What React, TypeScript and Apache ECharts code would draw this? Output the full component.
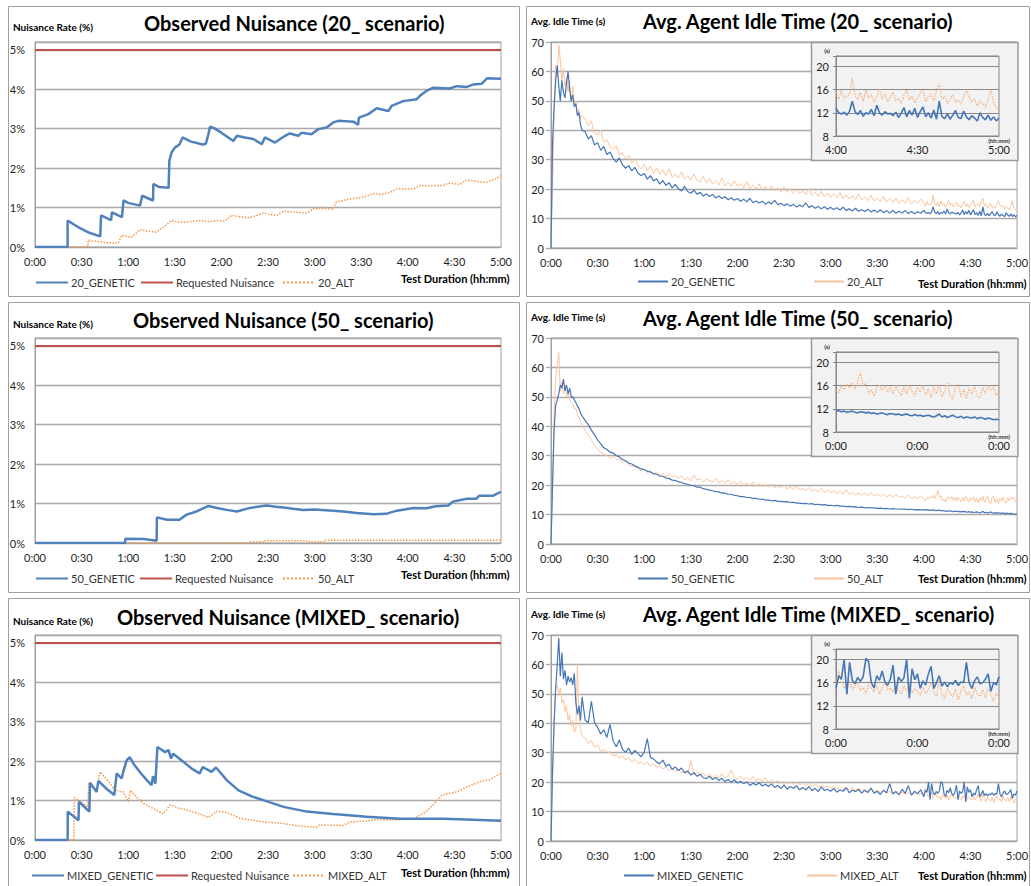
import React, { useEffect, useRef } from 'react';
import * as echarts from 'echarts';

function range(a: number, b: number, s: number): number[] {
  const r: number[] = [];
  for (let v = a; v <= b + 1e-9; v += s) r.push(v);
  return r;
}

// ---------- tick labels ----------
const xTickLabels = ['0:00', '0:30', '1:00', '1:30', '2:00', '2:30', '3:00', '3:30', '4:00', '4:30', '5:00'];
const pctLabels = ['0%', '1%', '2%', '3%', '4%', '5%'];
const idleLabels = ['0', '10', '20', '30', '40', '50', '60', '70'];
const insetYLabels = ['8', '12', '16', '20'];
const insetXLabels20 = ['4:00', '4:30', '5:00'];
const insetXLabelsOther = ['0:00', '0:00', '0:00'];

// ---------- nuisance (minutes, %) ----------
const requestedRate = 5;

const gen20T = [0, 21, 21, 28, 35, 42, 42.5, 49, 49.5, 56, 57, 60, 67.6, 69, 76, 76.2, 80, 86, 86.5, 88, 90, 93, 95, 100, 108, 110, 111.6, 112.7, 115, 120, 127.7, 130, 135, 140.5, 146, 148, 154.5, 161, 164, 169.5, 171.7, 178, 182.4, 187.8, 192, 195.3, 205, 208, 208.5, 214.6, 220, 227.5, 229.6, 237, 245.7, 248, 252, 256.4, 267, 271.5, 278, 282, 287.5, 291, 300];
const gen20V = [0, 0, 0.67, 0.5, 0.36, 0.27, 0.8, 0.68, 0.88, 0.76, 1.18, 1.12, 1.05, 1.3, 1.18, 1.6, 1.52, 1.5, 2.19, 2.4, 2.52, 2.6, 2.78, 2.68, 2.6, 2.62, 2.86, 3.05, 3.02, 2.9, 2.69, 2.82, 2.78, 2.74, 2.61, 2.78, 2.65, 2.82, 2.88, 2.82, 2.9, 2.86, 2.99, 3.03, 3.16, 3.2, 3.18, 3.1, 3.28, 3.37, 3.52, 3.45, 3.58, 3.7, 3.75, 3.84, 3.96, 4.04, 4.02, 4.08, 4.06, 4.12, 4.14, 4.28, 4.27];
const alt20T = [0, 34, 34.2, 40, 46, 53.6, 56, 62, 67.6, 72, 78, 82.6, 88, 92, 97.6, 106, 112, 117, 122, 126.6, 132, 138, 147, 155.6, 160, 168, 175, 179, 186, 192, 194, 203, 211, 218, 223, 228.5, 233, 243.6, 248, 256, 263, 266, 273.6, 278, 285, 291, 296, 300];
const alt20V = [0, 0, 0.17, 0.14, 0.11, 0.1, 0.3, 0.24, 0.44, 0.4, 0.38, 0.5, 0.67, 0.63, 0.63, 0.67, 0.64, 0.67, 0.66, 0.8, 0.77, 0.74, 0.86, 0.8, 0.91, 0.88, 0.86, 0.97, 0.98, 0.96, 1.14, 1.22, 1.26, 1.36, 1.33, 1.39, 1.47, 1.47, 1.56, 1.55, 1.56, 1.62, 1.59, 1.7, 1.66, 1.64, 1.72, 1.81];

const gen50T = [0, 58, 58.2, 70, 78.3, 78.5, 85, 93, 97.6, 104, 111.6, 118, 123.4, 130, 138.4, 149, 155, 160, 166, 172.7, 180, 192, 200, 207, 218, 226, 233, 243.6, 252, 258, 266, 269, 278, 284, 286, 295, 300];
const gen50V = [0, 0, 0.11, 0.1, 0.06, 0.65, 0.59, 0.59, 0.72, 0.8, 0.94, 0.88, 0.84, 0.8, 0.89, 0.95, 0.92, 0.9, 0.87, 0.84, 0.85, 0.82, 0.79, 0.76, 0.73, 0.74, 0.82, 0.89, 0.88, 0.93, 0.95, 1.05, 1.12, 1.12, 1.2, 1.2, 1.3];
const alt50T = [0, 138.4, 138.6, 147, 147.2, 175, 175.2, 186.7, 186.9, 300];
const alt50V = [0, 0, 0.03, 0.03, 0.06, 0.06, 0.03, 0.03, 0.07, 0.07];

const genMixT = [0, 21, 21.1, 28, 28.3, 35, 35.4, 39.7, 40.8, 46, 51, 52.6, 55.8, 56.8, 59, 61, 64, 68, 72, 75, 76, 77.5, 78.8, 81, 83.7, 86, 87.5, 89, 95, 100.9, 106, 108, 113.7, 116.5, 120, 123.4, 131, 140, 147, 160, 175, 192, 213.5, 235, 263, 286.5, 300];
const genMixV = [0, 0, 0.72, 0.5, 0.97, 0.72, 1.45, 1.22, 1.5, 1.3, 1.14, 1.69, 1.56, 1.73, 2.02, 2.1, 1.9, 1.7, 1.52, 1.39, 1.62, 1.43, 2.36, 2.3, 2.23, 2.28, 2.07, 2.19, 2.0, 1.81, 1.69, 1.85, 1.73, 1.84, 1.68, 1.52, 1.26, 1.1, 1.01, 0.84, 0.72, 0.66, 0.59, 0.54, 0.54, 0.51, 0.49];
const altMixT = [0, 25, 25.3, 30, 34, 34.6, 39.7, 42, 47, 51.5, 57, 60, 61.5, 65, 69.7, 78, 82.6, 87, 92, 97.6, 106, 111.6, 117, 123.4, 132, 147, 160, 170.6, 181, 183, 198.5, 203, 213.5, 220, 233, 243.6, 250, 256.4, 262, 271.5, 277, 286.5, 293, 300];
const altMixV = [0, 0, 1.08, 0.95, 0.84, 1.45, 1.26, 1.73, 1.5, 1.26, 1.22, 0.97, 1.26, 1.1, 0.93, 0.76, 0.66, 0.89, 0.82, 0.76, 0.66, 0.57, 0.73, 0.7, 0.55, 0.46, 0.42, 0.35, 0.32, 0.38, 0.37, 0.46, 0.48, 0.52, 0.51, 0.54, 0.67, 0.89, 1.14, 1.22, 1.33, 1.48, 1.53, 1.69];

// ---------- idle time (s) ----------
// sample times: every minute to 0:20, every 2 minutes to 3:58, every minute in the last hour
const idleTimes = [...range(0, 20, 1), ...range(22, 238, 2), ...range(240, 300, 1)];
const insetTimes = range(240, 300, 1);

const gen20Early = [0, 36, 48, 57, 62, 55, 50, 57, 53, 51, 56, 60, 54, 50, 52, 48, 49, 45, 46, 42, 40];
const gen20Mid = [39.5, 37, 38.2, 35, 35.8, 33.2, 34.5, 31.8, 32.6, 30.4,
  29.2, 30.6, 28.3, 27.1, 28.0, 26.2, 27.4, 25.5, 24.6, 25.3,
  23.4, 24.6, 22.8, 23.5, 21.7, 22.9, 21.3, 22.2, 20.4, 21.6,
  20.1, 19.4, 21.0, 19.2, 18.6, 19.7, 18.3, 18.9, 17.6, 18.4,
  17.5, 18.2, 17.0, 17.7, 16.8, 17.4, 16.4, 17.1, 16.2, 16.8,
  15.9, 16.6, 15.7, 16.9, 15.4, 16.0, 15.3, 15.9, 14.9, 15.6,
  15.0, 16.2, 14.7, 15.2, 14.4, 15.0, 14.2, 14.9, 13.9, 14.6,
  14.0, 15.3, 13.8, 14.4, 13.5, 14.1, 13.3, 14.0, 13.2, 13.8,
  13.1, 13.7, 12.9, 13.9, 12.7, 13.3, 12.6, 13.5, 12.5, 13.0,
  12.4, 13.2, 12.2, 12.9, 12.1, 13.0, 12.0, 12.7, 11.9, 12.8,
  11.8, 12.5, 11.9, 12.7, 11.7, 12.4, 11.6, 12.3, 11.8];
const gen20Late = [12.8, 12.0, 11.8, 12.1, 11.6, 12.3, 14.0, 12.2, 11.7, 12.4,
  11.4, 12.0, 11.8, 12.6, 11.5, 13.3, 12.0, 11.6, 12.2, 11.8,
  11.9, 11.5, 12.1, 11.2, 11.9, 12.9, 11.3, 12.4, 11.6, 12.8,
  11.2, 12.2, 13.0, 11.3, 12.0, 11.1, 12.5, 10.9, 14.0, 11.4,
  11.0, 11.8, 10.9, 11.6, 12.4, 11.2, 11.0, 12.3, 11.3, 10.8,
  11.5, 11.1, 10.6, 12.0, 11.2, 10.8, 11.6, 10.7, 11.3, 10.6,
  11.1];

const alt20Early = [0, 21, 45, 62, 58, 69, 64, 57, 61, 55, 58, 53, 57, 50, 55, 48, 50, 46, 47, 44, 45];
const alt20Mid = [44.0, 41.5, 43.2, 39.0, 38.4, 40.1, 35.8, 36.9, 34.2, 33.5,
  34.8, 31.6, 32.4, 30.2, 31.5, 28.8, 30.6, 28.1, 26.9, 28.4,
  26.3, 27.8, 25.4, 27.2, 25.0, 26.6, 24.6, 26.9, 24.0, 25.3,
  23.8, 25.9, 23.4, 24.6, 22.9, 25.2, 23.0, 22.4, 24.3, 22.1,
  23.6, 21.7, 22.9, 21.4, 23.8, 21.2, 22.4, 20.9, 22.8, 21.0,
  21.9, 20.5, 22.6, 20.3, 21.4, 20.0, 21.8, 19.8, 20.9, 19.6,
  21.2, 19.4, 20.5, 19.0, 20.8, 18.9, 20.1, 18.6, 19.9, 18.4,
  19.6, 18.1, 20.3, 17.9, 19.0, 17.6, 19.3, 17.4, 18.7, 17.2,
  18.6, 17.0, 18.9, 16.8, 18.1, 16.6, 17.8, 16.4, 18.3, 16.3,
  17.4, 16.1, 17.9, 15.9, 17.0, 15.8, 17.5, 15.6, 16.8, 15.5,
  16.9, 15.3, 16.4, 15.2, 17.1, 15.0, 16.2, 15.1, 16.6];
const alt20Late = [15.6, 14.2, 15.8, 14.5, 14.9, 15.2, 18.0, 15.0, 14.3, 15.5,
  14.0, 16.0, 14.6, 15.1, 13.8, 14.8, 16.1, 14.4, 15.3, 13.9,
  14.7, 15.6, 14.1, 14.5, 13.6, 15.0, 16.0, 14.2, 14.9, 13.7,
  14.6, 15.4, 16.3, 13.9, 14.7, 15.2, 14.0, 15.8, 17.0, 14.3,
  14.9, 13.6, 14.4, 15.1, 13.8, 14.2, 13.5, 14.8, 16.0, 14.6,
  13.9, 14.4, 13.2, 14.1, 13.6, 13.0, 14.3, 16.0, 13.8, 12.9,
  12.6];

const gen50Early = [0, 20, 39, 47, 49, 51, 54, 53, 56, 52, 54, 51, 53, 50, 50, 49, 48, 47, 46, 44.5, 43.5];
const gen50Mid = [42.0, 40.6, 38.7, 37.1, 35.3, 34.1, 32.7, 32.1, 31.2, 30.9,
  30.0, 29.6, 28.7, 28.3, 27.5, 27.2, 26.4, 26.1, 25.5, 25.3,
  24.7, 24.5, 23.9, 23.7, 23.1, 23.0, 22.4, 22.3, 21.7, 21.6,
  21.1, 20.9, 20.5, 20.3, 19.9, 19.8, 19.3, 19.3, 18.8, 18.6,
  18.3, 18.1, 17.8, 17.7, 17.3, 17.3, 16.9, 16.9, 16.5, 16.4,
  16.1, 16.1, 15.8, 15.8, 15.5, 15.5, 15.2, 15.3, 14.9, 14.9,
  14.7, 14.8, 14.5, 14.5, 14.3, 14.4, 14.1, 14.2, 13.9, 13.9,
  13.7, 13.8, 13.6, 13.7, 13.4, 13.5, 13.3, 13.4, 13.1, 13.1,
  13.0, 13.1, 12.9, 12.9, 12.7, 12.8, 12.6, 12.7, 12.4, 12.5,
  12.3, 12.4, 12.3, 12.3, 12.1, 12.2, 12.0, 12.1, 11.9, 12.0,
  11.9, 11.9, 11.8, 11.9, 11.7, 11.8, 11.6, 11.7, 11.6];
const gen50Late = [11.6, 11.7, 11.5, 11.6, 11.4, 11.5, 11.6, 11.4, 11.3, 11.5,
  11.4, 11.3, 11.4, 11.2, 11.3, 11.1, 11.2, 11.3, 11.1, 11.0,
  11.2, 11.1, 11.0, 11.1, 10.9, 11.0, 11.1, 10.9, 10.8, 11.0,
  10.8, 10.9, 10.7, 10.8, 10.9, 10.7, 10.6, 10.8, 11.1, 10.6,
  10.8, 10.5, 10.7, 10.9, 10.6, 10.5, 10.7, 10.4, 10.6, 10.5,
  10.4, 10.6, 10.3, 10.5, 10.4, 10.2, 10.4, 10.3, 10.1, 10.2,
  10.1];

const alt50Early = [0, 18, 44, 56, 61, 65, 52, 55, 51, 54, 50, 52, 49, 48, 47.5, 46, 46, 44, 43, 41.5, 40.5];
const alt50Mid = [38.6, 37.0, 35.4, 33.6, 32.3, 31.2, 30.6, 30.0, 29.1, 29.8,
  28.7, 28.9, 27.6, 28.3, 26.9, 26.2, 27.1, 25.6, 24.9, 25.4,
  24.3, 24.9, 23.6, 24.4, 23.2, 24.0, 22.8, 23.9, 22.6, 23.3,
  22.4, 23.1, 21.8, 22.6, 21.5, 23.4, 21.7, 22.2, 21.1, 22.0,
  21.6, 21.0, 22.3, 20.8, 21.5, 20.6, 21.9, 20.4, 21.2, 20.3,
  21.4, 20.0, 20.9, 19.8, 21.1, 19.6, 20.5, 19.5, 20.2, 19.3,
  20.4, 19.1, 19.7, 18.9, 20.0, 18.7, 19.4, 18.5, 19.6, 18.3,
  18.9, 18.1, 19.2, 17.9, 18.6, 17.7, 18.9, 17.5, 18.3, 17.4,
  18.2, 17.2, 17.9, 17.0, 18.4, 16.9, 17.6, 16.7, 17.4, 16.6,
  17.3, 16.4, 17.5, 16.3, 16.9, 16.1, 17.0, 16.0, 16.7, 15.9,
  16.8, 15.8, 16.3, 15.6, 16.6, 15.5, 16.1, 15.4, 16.4];
const alt50Late = [15.2, 14.8, 15.9, 15.3, 16.2, 15.6, 16.5, 15.4, 16.8, 18.2,
  15.9, 16.4, 14.6, 15.3, 14.2, 15.7, 16.0, 15.2, 16.1, 14.8,
  15.9, 14.5, 16.0, 15.1, 14.3, 15.8, 14.6, 16.1, 15.0, 14.2,
  15.7, 14.9, 16.0, 14.4, 15.5, 13.9, 15.8, 14.6, 16.2, 14.0,
  15.1, 16.4, 14.3, 13.6, 15.9, 16.2, 14.1, 15.4, 13.8, 15.6,
  14.5, 15.9, 14.2, 13.9, 15.7, 14.6, 16.0, 15.2, 15.8, 14.3,
  15.0];

const mixGenEarly = [0, 24, 40, 52, 60, 69, 56, 64, 55, 58, 53, 56, 54, 55.5, 53, 57, 47, 43, 46, 41, 49];
const mixGenMid = [41.0, 40.2, 47.5, 40.3, 38.6, 36.4, 37.8, 35.2, 39.6, 34.0,
  32.0, 34.3, 31.2, 30.1, 31.6, 29.4, 30.8, 29.7, 28.6, 30.2,
  34.8, 28.4, 27.9, 26.8, 26.3, 27.5, 25.4, 26.1, 24.3, 25.2,
  23.9, 24.8, 23.1, 23.8, 22.4, 23.2, 22.0, 22.7, 21.5, 21.2,
  22.0, 20.9, 21.6, 20.6, 21.3, 20.2, 20.9, 19.9, 20.8, 19.7,
  20.3, 19.5, 20.1, 18.9, 19.6, 19.0, 19.8, 18.7, 19.3, 18.5,
  19.4, 18.2, 18.9, 17.8, 19.1, 17.6, 18.5, 17.9, 18.8, 17.4,
  18.2, 17.3, 18.6, 17.1, 17.9, 16.8, 18.4, 17.2, 17.6, 16.9,
  17.9, 16.6, 17.4, 16.9, 18.1, 16.4, 17.3, 16.8, 17.5, 16.3,
  17.2, 16.5, 18.0, 16.2, 16.9, 15.8, 17.3, 16.4, 19.5, 16.0,
  16.8, 15.7, 17.6, 16.2, 18.8, 15.6, 16.9, 16.1, 17.4];
const mixGenLate = [15.0, 17.2, 16.6, 20.0, 14.0, 19.5, 16.4, 15.8, 16.9, 16.2,
  17.0, 20.2, 19.6, 16.0, 15.1, 17.2, 16.4, 18.0, 16.1, 15.5,
  16.6, 19.0, 14.0, 17.0, 16.2, 16.8, 20.0, 13.3, 18.4, 16.5,
  17.5, 15.0, 16.3, 15.6, 17.5, 18.8, 15.0, 16.0, 17.2, 15.4,
  16.1, 15.3, 16.0, 15.7, 16.4, 15.5, 16.1, 16.0, 19.5, 16.0,
  15.0, 16.3, 17.0, 15.8, 16.0, 16.6, 17.5, 14.5, 16.0, 15.6,
  17.0];

const mixAltEarly = [0, 22, 40, 52, 53, 50, 52, 47, 48, 44, 46, 41, 43, 39, 41, 37, 38, 60, 42, 38, 36];
const mixAltMid = [35.0, 33.2, 34.1, 31.8, 32.6, 30.4, 31.2, 29.6, 30.5, 28.9,
  29.4, 28.1, 28.9, 27.5, 28.4, 26.8, 27.7, 26.3, 27.0, 25.9,
  26.8, 25.4, 26.2, 24.9, 25.8, 24.5, 25.1, 24.0, 24.8, 23.6,
  24.4, 23.1, 23.9, 22.8, 27.3, 22.5, 23.6, 22.2, 23.1, 21.9,
  22.7, 21.6, 22.4, 21.4, 22.9, 21.3, 22.2, 24.1, 21.6, 21.0,
  22.1, 20.8, 21.6, 20.6, 21.9, 20.5, 21.2, 20.3, 21.5, 20.1,
  20.9, 19.8, 20.6, 19.6, 20.3, 19.4, 20.1, 19.2, 20.0, 19.0,
  19.7, 18.8, 19.6, 18.5, 19.2, 18.3, 19.0, 18.1, 18.8, 17.9,
  18.6, 17.7, 18.5, 17.5, 18.2, 17.4, 18.0, 17.2, 17.9, 17.1,
  17.6, 16.9, 17.5, 16.7, 17.2, 16.5, 17.0, 16.3, 16.9, 16.2,
  16.8, 16.0, 16.6, 15.9, 16.4, 15.7, 16.3, 15.6, 16.2];
const mixAltLate = [15.9, 18.0, 16.2, 15.0, 15.6, 16.4, 14.8, 15.5, 16.0, 14.6,
  15.2, 14.1, 15.8, 15.0, 14.4, 15.6, 14.0, 15.3, 16.2, 14.7,
  15.1, 14.3, 15.5, 14.8, 14.0, 15.4, 14.6, 15.8, 14.2, 15.0,
  14.5, 13.8, 15.2, 14.1, 14.8, 16.0, 14.3, 13.6, 16.4, 14.0,
  13.3, 15.0, 14.2, 13.5, 14.9, 13.0, 14.6, 15.4, 13.8, 14.4,
  13.2, 15.2, 14.0, 13.6, 14.8, 13.4, 15.0, 13.9, 12.8, 14.2,
  13.5];

// ---------- styling ----------
const FONT = 'Lato';
const GRID_COLOR = '#a9a9a9';
const AXIS_COLOR = '#a0a0a0';
const PANEL_BORDER = '#a0a0a0';
const BLUE = '#4f81bd';
const RED = '#c0504d';
const ORANGE = '#f79646';
const IDLE_BLUE = '#4676b6';
const IDLE_ORANGE = '#f9c49c';
const INSET_ORANGE = '#f6ae7a';
const LABEL_COLOR = '#1e1e1e';

const plotTops = [42, 338, 635];
const panelTops = [6.5, 302.5, 598.5];

const pairs = (t: number[], v: number[]) => t.map((x, i) => [x, v[i]]);
const isInt = (v: number) => Math.abs(v - Math.round(v)) < 1e-6;

const scenarios = [
  {
    nuisTitle: 'Observed Nuisance (20_ scenario)', nuisTitleX: 144, nuisTitleY: 23,
    idleTitle: 'Avg. Agent Idle Time (20_ scenario)', idleTitleY: 21,
    gen: '20_GENETIC', alt: '20_ALT',
    genN: pairs(gen20T, gen20V), altN: pairs(alt20T, alt20V),
    genI: [...gen20Early, ...gen20Mid, ...gen20Late], altI: [...alt20Early, ...alt20Mid, ...alt20Late],
    genL: gen20Late, altL: alt20Late,
    insetLabels: insetXLabels20,
    nuisLegend: [35, 140, 282], nuisLegendY: 284,
    idleLegend: [637, 813], idleLegendY: 283,
    yNameLeftY: 27, yNameRightY: 21, durLeftY: 278, durRightY: 283,
  },
  {
    nuisTitle: 'Observed Nuisance (50_ scenario)', nuisTitleX: 133, nuisTitleY: 320,
    idleTitle: 'Avg. Agent Idle Time (50_ scenario)', idleTitleY: 318,
    gen: '50_GENETIC', alt: '50_ALT',
    genN: pairs(gen50T, gen50V), altN: pairs(alt50T, alt50V),
    genI: [...gen50Early, ...gen50Mid, ...gen50Late], altI: [...alt50Early, ...alt50Mid, ...alt50Late],
    genL: gen50Late, altL: alt50Late,
    insetLabels: insetXLabelsOther,
    nuisLegend: [35, 139, 282], nuisLegendY: 580,
    idleLegend: [637, 813], idleLegendY: 580,
    yNameLeftY: 324, yNameRightY: 317, durLeftY: 574, durRightY: 578,
  },
  {
    nuisTitle: 'Observed Nuisance (MIXED_ scenario)', nuisTitleX: 117, nuisTitleY: 617,
    idleTitle: 'Avg. Agent Idle Time (MIXED_ scenario)', idleTitleY: 614,
    gen: 'MIXED_GENETIC', alt: 'MIXED_ALT',
    genN: pairs(genMixT, genMixV), altN: pairs(altMixT, altMixV),
    genI: [...mixGenEarly, ...mixGenMid, ...mixGenLate], altI: [...mixAltEarly, ...mixAltMid, ...mixAltLate],
    genL: mixGenLate, altL: mixAltLate,
    insetLabels: insetXLabelsOther,
    nuisLegend: [31, 155, 292], nuisLegendY: 877,
    idleLegend: [623, 806], idleLegendY: 877,
    yNameLeftY: 621, yNameRightY: 614, durLeftY: 872, durRightY: 875,
  },
];

function text(x: number, y: number, s: string, size: number, bold: boolean, align = 'left', z = 20, color = '#000') {
  return {
    type: 'text', x, y, z, silent: true,
    style: {
      text: s, fontSize: size, fontWeight: bold ? 'bold' : 'normal', fontFamily: FONT, fill: color,
      textAlign: align, textVerticalAlign: 'middle', align, verticalAlign: 'middle',
    },
  };
}

function buildOption() {
  const grid: any[] = [];
  const xAxis: any[] = [];
  const yAxis: any[] = [];
  const series: any[] = [];
  const graphic: any[] = [];
  const legend: any[] = [];

  const labelStyle = { fontFamily: FONT, fontSize: 11, color: LABEL_COLOR };

  const mainX = (g: number) => ({
    type: 'value', gridIndex: g, min: 0, max: 300, interval: 30,
    axisLine: { show: true, onZero: false, lineStyle: { color: AXIS_COLOR } },
    axisTick: { show: false },
    splitLine: { show: false },
    axisLabel: { ...labelStyle, margin: 9, formatter: (v: number) => xTickLabels[Math.round(v / 30)] ?? '' },
  });

  // grids 0-2: nuisance, 3-5: idle, 6-8: insets
  scenarios.forEach((s, r) => {
    grid[r] = { left: 35, top: plotTops[r], width: 466, height: 205, show: true, borderColor: PANEL_BORDER, borderWidth: 1, backgroundColor: '#fff' };
    xAxis[r] = mainX(r);
    yAxis[r] = {
      type: 'value', gridIndex: r, min: 0, max: 5.2, interval: 1,
      axisLine: { show: true, lineStyle: { color: AXIS_COLOR } },
      axisTick: { show: false },
      splitLine: { show: true, lineStyle: { color: GRID_COLOR, width: 1.3 } },
      axisLabel: { ...labelStyle, margin: 10, formatter: (v: number) => (isInt(v) ? pctLabels[Math.round(v)] ?? '' : '') },
    };
  });
  scenarios.forEach((s, r) => {
    const g = 3 + r;
    grid[g] = { left: 551, top: plotTops[r], width: 467, height: 206, show: true, borderColor: PANEL_BORDER, borderWidth: 1, backgroundColor: '#fff' };
    xAxis[g] = mainX(g);
    yAxis[g] = {
      type: 'value', gridIndex: g, min: 0, max: 70, interval: 10,
      axisLine: { show: true, lineStyle: { color: AXIS_COLOR } },
      axisTick: { show: true, length: 5, lineStyle: { color: GRID_COLOR, width: 1.3 } },
      splitLine: { show: true, lineStyle: { color: GRID_COLOR, width: 1.3 } },
      axisLabel: { ...labelStyle, margin: 7, formatter: (v: number) => idleLabels[Math.round(v / 10)] ?? '' },
    };
  });
  scenarios.forEach((s, r) => {
    const g = 6 + r;
    grid[g] = { left: 836, top: plotTops[r] + 14, width: 163, height: 80, show: true, borderColor: '#858585', borderWidth: 1, backgroundColor: '#f2f2f2', z: 11 };
    xAxis[g] = {
      type: 'value', gridIndex: g, min: 240, max: 300, interval: 30, z: 12,
      axisLine: { show: true, onZero: false, lineStyle: { color: '#858585' } },
      axisTick: { show: false },
      splitLine: { show: false },
      axisLabel: { ...labelStyle, margin: 8, formatter: (v: number) => s.insetLabels[Math.round((v - 240) / 30)] ?? '' },
    };
    yAxis[g] = {
      type: 'value', gridIndex: g, min: 8, max: 21.8, interval: 4, z: 12,
      axisLine: { show: true, lineStyle: { color: '#858585' } },
      axisTick: { show: true, length: 3, lineStyle: { color: '#858585' } },
      splitLine: { show: true, lineStyle: { color: '#8a8a8a', width: 1 } },
      axisLabel: { ...labelStyle, margin: 7, formatter: (v: number) => (isInt(v) ? insetYLabels[Math.round((v - 8) / 4)] ?? '' : '') },
    };
  });

  scenarios.forEach((s, r) => {
    // nuisance series
    series.push({
      type: 'line', name: s.gen, xAxisIndex: r, yAxisIndex: r, data: s.genN, symbol: 'none', z: 4,
      lineStyle: { color: BLUE, width: 2.5 }, itemStyle: { color: BLUE },
    });
    series.push({
      type: 'line', name: 'Requested Nuisance', xAxisIndex: r, yAxisIndex: r,
      data: [[0, requestedRate], [300, requestedRate]], symbol: 'none', z: 4,
      lineStyle: { color: RED, width: 2 }, itemStyle: { color: RED },
    });
    series.push({
      type: 'line', name: s.alt, xAxisIndex: r, yAxisIndex: r, data: s.altN, symbol: 'none', z: 3,
      lineStyle: { color: ORANGE, width: 1.5, type: 'dotted' }, itemStyle: { color: ORANGE },
    });
    // idle main
    const g = 3 + r;
    series.push({
      type: 'line', name: s.alt + '#idle', xAxisIndex: g, yAxisIndex: g, data: pairs(idleTimes, s.altI), symbol: 'none', z: 3,
      lineStyle: { color: IDLE_ORANGE, width: 1 }, itemStyle: { color: IDLE_ORANGE },
    });
    series.push({
      type: 'line', name: s.gen + '#idle', xAxisIndex: g, yAxisIndex: g, data: pairs(idleTimes, s.genI), symbol: 'none', z: 4,
      lineStyle: { color: IDLE_BLUE, width: 1.2 }, itemStyle: { color: IDLE_BLUE },
    });
    // inset
    const gi = 6 + r;
    series.push({
      type: 'line', name: s.alt + '#inset', xAxisIndex: gi, yAxisIndex: gi, data: pairs(insetTimes, s.altL), symbol: 'none', z: 13,
      lineStyle: { color: INSET_ORANGE, width: 1.3, type: 'dotted' }, itemStyle: { color: INSET_ORANGE },
    });
    series.push({
      type: 'line', name: s.gen + '#inset', xAxisIndex: gi, yAxisIndex: gi, data: pairs(insetTimes, s.genL), symbol: 'none', z: 14,
      lineStyle: { color: IDLE_BLUE, width: 1.6 }, itemStyle: { color: IDLE_BLUE },
    });

    // panels
    graphic.push({ type: 'rect', z: 0, silent: true, shape: { x: 8.5, y: panelTops[r], width: 511, height: 290 }, style: { fill: 'none', stroke: PANEL_BORDER, lineWidth: 1 } });
    graphic.push({ type: 'rect', z: 0, silent: true, shape: { x: 526.5, y: panelTops[r], width: 503, height: 290 }, style: { fill: 'none', stroke: PANEL_BORDER, lineWidth: 1 } });
    // inset box
    graphic.push({ type: 'rect', z: 10, silent: true, shape: { x: 811.5, y: plotTops[r] + 0.5, width: 206.5, height: 118 }, style: { fill: '#f2f2f2', stroke: '#9a9a9a', lineWidth: 1.5 } });
    graphic.push(text(827, plotTops[r] + 8, '(s)', 6, true, 'center', 20, '#333'));
    graphic.push(text(999, plotTops[r] + 98, '(hh:mm)', 6, true, 'center', 20, '#333'));

    // titles & names
    graphic.push(text(s.nuisTitleX, s.nuisTitleY, s.nuisTitle, 20, true));
    graphic.push(text(643, s.idleTitleY, s.idleTitle, 20, true));
    graphic.push(text(13, s.yNameLeftY, 'Nuisance Rate (%)', 10, true));
    graphic.push(text(531, s.yNameRightY, 'Avg. Idle Time (s)', 10, true));
    graphic.push(text(401, s.durLeftY, 'Test Duration (hh:mm)', 11, true));
    graphic.push(text(918, s.durRightY, 'Test Duration (hh:mm)', 11, true));

    // legends (one component per item, so each sits where the reference has it)
    const legendBase = {
      padding: 0, itemHeight: 10, itemGap: 0, selectedMode: false,
      itemStyle: { opacity: 0 },
      textStyle: { fontFamily: FONT, fontSize: 11, color: '#333', padding: [0, 0, 0, -2] },
      formatter: (n: string) => n.split('#')[0],
    };
    const nuisNames = [s.gen, 'Requested Nuisance', s.alt];
    nuisNames.forEach((n, i) => {
      legend.push({ ...legendBase, left: s.nuisLegend[i], top: s.nuisLegendY - 7, itemWidth: 32, data: [n] });
    });
    [s.gen + '#idle', s.alt + '#idle'].forEach((n, i) => {
      legend.push({ ...legendBase, left: s.idleLegend[i], top: s.idleLegendY - 7, itemWidth: 30, data: [n] });
    });
  });

  return {
    animation: false,
    backgroundColor: '#fff',
    textStyle: { fontFamily: FONT },
    grid, xAxis, yAxis, series, graphic, legend,
  };
}

export default function App() {
  const ref = useRef<HTMLDivElement>(null);
  useEffect(() => {
    if (!ref.current) return;
    const chart = echarts.init(ref.current, undefined, { renderer: 'svg' });
    chart.setOption(buildOption() as any);
    return () => chart.dispose();
  }, []);
  return <div ref={ref} style={{ position: 'absolute', left: 0, top: 0, width: 1031, height: 886 }} />;
}
